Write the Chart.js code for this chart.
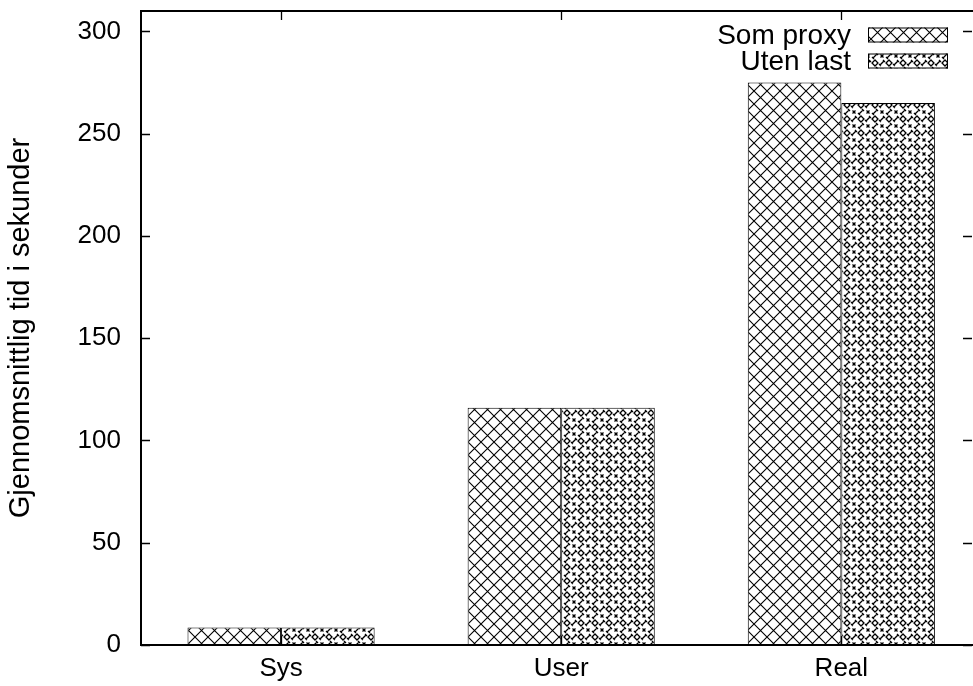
<!DOCTYPE html>
<html>
<head>
<meta charset="utf-8">
<script src="https://cdn.jsdelivr.net/npm/chart.js@4.4.1/dist/chart.umd.min.js"></script>
<style>
  html, body { margin: 0; padding: 0; background: #fff; overflow: hidden; }
  #wrap { width: 973px; height: 686px; }
</style>
</head>
<body>
<div id="wrap"><canvas id="cadre"></canvas></div>
<script>
const categories = ["Sys", "User", "Real"];
const seriesNames = ["Som proxy", "Uten last"];
const somProxy = [8.5, 116, 275];
const utenLast = [8.5, 116, 265];
const yTicks = [0, 50, 100, 150, 200, 250, 300];
const yTitle = "Gjennomsnittlig tid i sekunder";

const FONT = "'Liberation Sans', Arial, Helvetica, sans-serif";

// gnuplot-like fill patterns
function crossHatch() {
  const c = document.createElement("canvas");
  c.width = c.height = 13;
  const g = c.getContext("2d");
  g.fillStyle = "#fff";
  g.fillRect(0, 0, 13, 13);
  g.strokeStyle = "#000";
  g.lineWidth = 1.1;
  g.beginPath();
  g.moveTo(0, 0); g.lineTo(13, 13);
  g.moveTo(13, 0); g.lineTo(0, 13);
  g.stroke();
  return g.createPattern(c, "repeat");
}

function densePattern() {
  const s = 14;
  const c = document.createElement("canvas");
  c.width = c.height = s;
  const g = c.getContext("2d");
  g.fillStyle = "#fff";
  g.fillRect(0, 0, s, s);
  g.strokeStyle = "#000";
  g.lineWidth = 1.3;
  // small diamond in the middle
  g.beginPath();
  g.moveTo(7, 4); g.lineTo(10, 7); g.lineTo(7, 10); g.lineTo(4, 7); g.closePath();
  g.stroke();
  // little crosses on the corners
  g.beginPath();
  [[0, 0], [s, 0], [0, s], [s, s]].forEach(([x, y]) => {
    g.moveTo(x - 1.5, y - 1.5); g.lineTo(x + 1.5, y + 1.5);
    g.moveTo(x + 1.5, y - 1.5); g.lineTo(x - 1.5, y + 1.5);
  });
  g.stroke();
  // dumbbells on the edges
  g.beginPath();
  [[0, 7], [s, 7], [7, 0], [7, s]].forEach(([x, y]) => {
    g.moveTo(x - 2, y + 2); g.lineTo(x + 2, y - 2);
    g.moveTo(x - 3, y + 1); g.lineTo(x - 1, y + 3);
    g.moveTo(x + 1, y - 3); g.lineTo(x + 3, y - 1);
  });
  g.stroke();
  return g.createPattern(c, "repeat");
}

const patterns = [crossHatch(), densePattern()];
const seriesData = [somProxy, utenLast];

const datasets = seriesNames.map((name, i) => ({
  label: name,
  data: seriesData[i].map((v, k) => ({ x: k, y: v })),
  backgroundColor: patterns[i],
  borderColor: "#000",
  borderWidth: 1,
  borderSkipped: "bottom",
  categoryPercentage: 0.668,
  barPercentage: 1.0,
}));

// frame, mirrored ticks and legend, drawn like gnuplot does
const gnuplotFrame = {
  id: "gnuplotFrame",
  afterDatasetsDraw(chart) {
    const { ctx, chartArea: a, scales } = chart;
    const xs = scales.x, ys = scales.y;
    ctx.save();
    ctx.strokeStyle = "#000";
    ctx.lineWidth = 1.3;
    ctx.beginPath();
    yTicks.forEach(v => {
      const y = Math.round(ys.getPixelForValue(v)) + 0.5;
      ctx.moveTo(a.left, y); ctx.lineTo(a.left + 9, y);
      ctx.moveTo(a.right - 1, y); ctx.lineTo(a.right - 10, y);
    });
    categories.forEach((c, i) => {
      const x = Math.round(xs.getPixelForValue(i)) + 0.5;
      ctx.moveTo(x, a.top); ctx.lineTo(x, a.top + 9);
      ctx.moveTo(x, a.bottom); ctx.lineTo(x, a.bottom - 9);
    });
    ctx.stroke();

    // border: the right edge falls just outside the picture
    ctx.lineWidth = 2;
    ctx.beginPath();
    ctx.moveTo(a.right + 2, a.top);
    ctx.lineTo(a.left, a.top);
    ctx.lineTo(a.left, a.bottom);
    ctx.lineTo(a.right + 2, a.bottom);
    ctx.stroke();

    // legend
    ctx.font = "28px " + FONT;
    ctx.textAlign = "right";
    ctx.textBaseline = "middle";
    ctx.fillStyle = "#000";
    chart.data.datasets.forEach((ds, i) => {
      const cy = a.top + 24 + i * 26;
      ctx.fillText(ds.label, a.right - 122, cy + 1);
      ctx.fillStyle = ds.backgroundColor;
      ctx.fillRect(a.right - 105, cy - 7.5, 80, 15);
      ctx.lineWidth = 1;
      ctx.strokeRect(a.right - 105 + 0.5, cy - 7.5 + 0.5, 79, 14);
      ctx.fillStyle = "#000";
    });
    ctx.restore();
  }
};

new Chart(document.getElementById("cadre"), {
  type: "bar",
  data: { datasets },
  options: {
    responsive: true,
    maintainAspectRatio: false,
    animation: false,
    layout: { padding: { top: 11, right: 0, left: 0, bottom: 0 } },
    plugins: { legend: { display: false }, tooltip: { enabled: false } },
    scales: {
      x: {
        type: "linear",
        offset: false,
        min: -0.5,
        max: 2.47,
        afterBuildTicks: s => { s.ticks = categories.map((c, i) => ({ value: i })); },
        afterFit: s => {
          s.height = 41;
          s.paddingLeft = 0; s.paddingRight = 0; s.paddingTop = 0; s.paddingBottom = 0;
        },
        grid: { display: false, drawTicks: false },
        border: { display: false },
        ticks: {
          padding: 8,
          color: "#000",
          font: { family: FONT, size: 26 },
          callback: v => categories[v] ?? "",
        },
      },
      y: {
        type: "linear",
        min: 0,
        max: 310,
        afterBuildTicks: s => { s.ticks = yTicks.map(v => ({ value: v })); },
        afterFit: s => {
          s.width = 141;
          s.paddingLeft = 0; s.paddingRight = 0; s.paddingTop = 0; s.paddingBottom = 0;
        },
        grid: { display: false, drawTicks: false },
        border: { display: false },
        ticks: {
          padding: 20,
          color: "#000",
          font: { family: FONT, size: 26 },
        },
        title: {
          display: true,
          text: yTitle,
          color: "#000",
          font: { family: FONT, size: 29 },
          padding: { top: 4, bottom: 0 },
        },
      },
    },
  },
  plugins: [gnuplotFrame],
});
</script>
</body>
</html>
